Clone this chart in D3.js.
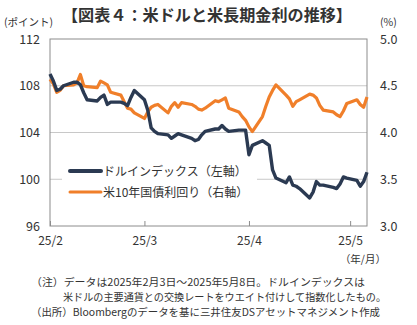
<!DOCTYPE html>
<html><head><meta charset="utf-8">
<script src="https://cdn.jsdelivr.net/npm/d3@7"></script>
<style>
html,body{margin:0;padding:0;background:#fff;}
svg{display:block;font-family:"Noto Sans CJK JP","Noto Sans",sans-serif;}
</style></head>
<body><svg id="c" width="417" height="325"></svg>
<script>
const dates = ["2025-02-03","2025-02-04","2025-02-05","2025-02-06","2025-02-07",
"2025-02-10","2025-02-11","2025-02-12","2025-02-13","2025-02-14",
"2025-02-17","2025-02-18","2025-02-19","2025-02-20","2025-02-21",
"2025-02-24","2025-02-25","2025-02-26","2025-02-27","2025-02-28",
"2025-03-03","2025-03-04","2025-03-05","2025-03-06","2025-03-07",
"2025-03-10","2025-03-11","2025-03-12","2025-03-13","2025-03-14",
"2025-03-17","2025-03-18","2025-03-19","2025-03-20","2025-03-21",
"2025-03-24","2025-03-25","2025-03-26","2025-03-27","2025-03-28",
"2025-03-31","2025-04-01","2025-04-02","2025-04-03","2025-04-04",
"2025-04-07","2025-04-08","2025-04-09","2025-04-10","2025-04-11",
"2025-04-14","2025-04-15","2025-04-16","2025-04-17","2025-04-18",
"2025-04-21","2025-04-22","2025-04-23","2025-04-24","2025-04-25",
"2025-04-28","2025-04-29","2025-04-30","2025-05-01","2025-05-02",
"2025-05-05","2025-05-06","2025-05-07","2025-05-08"];
const dollarIndex = [109.0,108.4,107.6,107.7,108.0,
108.3,108.3,108.1,107.4,106.8,
106.7,107.0,107.2,106.4,106.6,
106.6,106.5,106.3,107.0,107.6,
106.8,105.9,104.4,104.1,103.9,
103.8,103.5,103.7,103.9,103.8,
103.5,103.3,103.4,103.8,104.1,
104.3,104.3,104.6,104.3,104.1,
104.2,104.2,104.2,102.1,102.9,
103.3,103.1,102.9,100.8,100.1,
99.7,100.2,99.5,99.4,99.2,
98.4,98.9,99.8,99.5,99.5,
99.3,99.2,99.6,100.2,100.1,
99.9,99.4,99.8,100.6];
const us10y = [4.57,4.52,4.43,4.45,4.50,
4.51,4.53,4.62,4.50,4.49,
4.48,4.55,4.53,4.51,4.43,
4.40,4.33,4.26,4.25,4.21,
4.15,4.22,4.27,4.29,4.30,
4.21,4.28,4.32,4.27,4.32,
4.30,4.28,4.25,4.24,4.26,
4.34,4.33,4.35,4.37,4.26,
4.22,4.17,4.13,4.06,4.01,
4.17,4.28,4.38,4.45,4.51,
4.40,4.36,4.28,4.33,4.35,
4.41,4.40,4.37,4.29,4.24,
4.22,4.19,4.17,4.23,4.31,
4.35,4.30,4.27,4.38];
const leftTicks = [96,100,104,108,112];
const rightTicks = [3.0,3.5,4.0,4.5,5.0];
const xTickDates = ["2025-02-03","2025-03-03","2025-04-03","2025-05-03"];
const xTickLabels = ["25/2","25/3","25/4","25/5"];
const seriesNames = ["ドルインデックス（左軸）","米10年国債利回り（右軸）"];
const title = "【図表４：米ドルと米長期金利の推移】";
const notes = ["（注）データは2025年2月3日～2025年5月8日。ドルインデックスは",
"米ドルの主要通貨との交換レートをウエイト付けして指数化したもの。",
"（出所）Bloombergのデータを基に三井住友DSアセットマネジメント作成"];

const parse = d3.timeParse("%Y-%m-%d");
const svg = d3.select("#c");
const L = 50, R = 367, T = 39, B = 226;
const x = d3.scaleTime().domain([parse(dates[0]), parse(dates[dates.length-1])]).range([L, R]);
const yL = d3.scaleLinear().domain([96,112]).range([B, T]);
const yR = d3.scaleLinear().domain([3,5]).range([B, T]);
const navy = "#2b3a52", orange = "#f07f2a", txt = "#333";

// title
svg.append("text").attr("x",62).attr("y",21)
  .attr("font-size",16).attr("font-weight","bold").attr("fill","#333")
  .attr("textLength",290).attr("lengthAdjust","spacingAndGlyphs").text(title);
svg.append("text").attr("x",4).attr("y",26).attr("font-size",10.5).attr("fill",txt).text("(ポイント)");
svg.append("text").attr("x",380).attr("y",26).attr("font-size",10.5).attr("fill",txt).text("(%)");

// gridlines
const g = svg.append("g");
g.selectAll("line.grid").data(leftTicks.filter(v=>v>96&&v<112)).join("line")
  .attr("x1",L).attr("x2",R).attr("y1",d=>yL(d)).attr("y2",d=>yL(d))
  .attr("stroke","#c8c8c8").attr("stroke-width",1);

// frame
svg.append("rect").attr("x",L).attr("y",T).attr("width",R-L).attr("height",B-T)
  .attr("fill","none").attr("stroke","#8c8c8c").attr("stroke-width",1);

// axes
const axL = d3.axisLeft(yL).tickValues(leftTicks).tickSize(0).tickPadding(10).tickFormat(d3.format("d"));
const gl = svg.append("g").attr("transform",`translate(${L},0)`).call(axL);
const axR = d3.axisRight(yR).tickValues(rightTicks).tickSize(0).tickPadding(13).tickFormat(d3.format(".1f"));
const gr = svg.append("g").attr("transform",`translate(${R},0)`).call(axR);
const axB = d3.axisBottom(x).tickValues(xTickDates.map(parse)).tickSizeInner(-5).tickSizeOuter(0).tickPadding(10)
  .tickFormat((d,i)=>xTickLabels[i]);
const gb = svg.append("g").attr("transform",`translate(0,${B})`).call(axB);
[gl,gr,gb].forEach(a=>{
  a.select(".domain").remove();
  a.selectAll("text").attr("font-size",12.5).attr("fill",txt).attr("font-family","Noto Sans CJK JP, sans-serif");
  a.selectAll("line").attr("stroke","#8c8c8c");
});
gb.selectAll("text").attr("font-size",12);
svg.append("text").attr("x",386).attr("y",263).attr("text-anchor","end").attr("font-size",10.5).attr("fill",txt).text("（年/月）");

// legend background
svg.append("rect").attr("x",62).attr("y",158).attr("width",195).attr("height",44).attr("fill","#fff");

// lines
const pts = dates.map((d,i)=>({d:parse(d), a:dollarIndex[i], b:us10y[i]}));
svg.append("path").datum(pts).attr("fill","none").attr("stroke",orange).attr("stroke-width",3.2)
  .attr("stroke-linejoin","round").attr("d",d3.line().x(p=>x(p.d)).y(p=>yR(p.b)));
svg.append("path").datum(pts).attr("fill","none").attr("stroke",navy).attr("stroke-width",3.4)
  .attr("stroke-linejoin","round").attr("d",d3.line().x(p=>x(p.d)).y(p=>yL(p.a)));

// legend
const lg = svg.append("g");
[[navy,171,4],[orange,192,3]].forEach((c,i)=>{
  lg.append("line").attr("x1",70).attr("x2",101).attr("y1",c[1]).attr("y2",c[1])
    .attr("stroke",c[0]).attr("stroke-width",c[2]).attr("stroke-linecap","round");
  lg.append("text").attr("x",103).attr("y",c[1]+4.5).attr("font-size",12).attr("fill",txt).text(seriesNames[i]);
});

// notes
const noteLayout = [[31,286,334],[63,301,323],[31,316,349]];
notes.forEach((n,i)=>{
  svg.append("text").attr("x",noteLayout[i][0]).attr("y",noteLayout[i][1]).attr("font-size",10.5).attr("fill",txt)
    .attr("textLength",noteLayout[i][2]).attr("lengthAdjust","spacingAndGlyphs").text(n);
});
</script></body></html>
